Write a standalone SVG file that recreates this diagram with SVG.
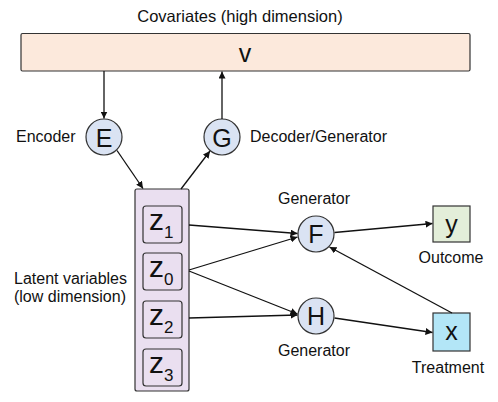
<svg xmlns="http://www.w3.org/2000/svg" width="498" height="402" viewBox="0 0 498 402">
<defs>
<marker id="ah" viewBox="0 0 10 10" refX="10" refY="5" markerWidth="7" markerHeight="7" markerUnits="userSpaceOnUse" orient="auto">
<path d="M0,0 L10,5 L0,10 z" fill="#111"/>
</marker>
<style>
text{font-family:"Liberation Sans",Arial,sans-serif;fill:#111}
.lbl{font-size:16px}
.big{font-size:25px;text-anchor:middle}
.node{stroke:#333;stroke-width:1.2}
.circ{fill:#dae3f3}
.z{font-size:30px}
.sub{font-size:17px}
.edge{stroke:#111;stroke-width:1.3;fill:none;marker-end:url(#ah)}
</style>
</defs>
<text class="lbl" x="240" y="22" text-anchor="middle" style="font-size:16.5px">Covariates (high dimension)</text>
<g id="V">
<rect class="node" x="21" y="33.5" width="449" height="37.5" rx="1.5" fill="#fce9dc"/>
<text class="big" x="245" y="62">v</text>
</g>
<g id="E">
<circle class="node circ" cx="104" cy="137" r="18"/>
<text class="big" x="104" y="146.5">E</text>
<text class="lbl" x="16" y="142">Encoder</text>
</g>
<g id="G">
<circle class="node circ" cx="222" cy="137" r="18"/>
<text class="big" x="222" y="146.5">G</text>
<text class="lbl" x="250" y="142">Decoder/Generator</text>
</g>
<g id="Z">
<rect class="node" x="135" y="189" width="54" height="202" rx="2" fill="#eadff0"/>
<rect class="node" x="143" y="206" width="39" height="37" rx="3" fill="#eadff0"/>
<rect class="node" x="143" y="253" width="39" height="37" rx="3" fill="#eadff0"/>
<rect class="node" x="143" y="301" width="39" height="37" rx="3" fill="#eadff0"/>
<rect class="node" x="143" y="349" width="39" height="37" rx="3" fill="#eadff0"/>
<text x="149" y="230"><tspan class="z">z</tspan><tspan class="sub" dy="8">1</tspan></text>
<text x="149" y="277"><tspan class="z">z</tspan><tspan class="sub" dy="8">0</tspan></text>
<text x="149" y="325"><tspan class="z">z</tspan><tspan class="sub" dy="8">2</tspan></text>
<text x="149" y="373"><tspan class="z">z</tspan><tspan class="sub" dy="8">3</tspan></text>
<text class="lbl" x="127" y="284" text-anchor="end">Latent variables</text>
<text class="lbl" x="126" y="302" text-anchor="end">(low dimension)</text>
</g>
<g id="F">
<circle class="node circ" cx="316" cy="234" r="18"/>
<text class="big" x="316" y="243">F</text>
<text class="lbl" x="314" y="204" text-anchor="middle">Generator</text>
</g>
<g id="H">
<circle class="node circ" cx="316" cy="316" r="18"/>
<text class="big" x="316" y="325">H</text>
<text class="lbl" x="314" y="356" text-anchor="middle">Generator</text>
</g>
<g id="Y">
<rect class="node" x="433" y="206" width="37" height="36" fill="#e3eed9"/>
<text class="big" x="451.5" y="233">y</text>
<text class="lbl" x="451" y="263" text-anchor="middle">Outcome</text>
</g>
<g id="X">
<rect class="node" x="433" y="313" width="37" height="38" fill="#b3e6f7"/>
<text class="big" x="451.5" y="340">x</text>
<text class="lbl" x="448" y="373" text-anchor="middle">Treatment</text>
</g>
<g id="connectors">
<line class="edge" x1="104" y1="71" x2="104" y2="118.5"/>
<line class="edge" x1="222" y1="119" x2="222" y2="71.5"/>
<line class="edge" x1="117" y1="150.5" x2="143" y2="188.5"/>
<line class="edge" x1="181" y1="189" x2="210" y2="151"/>
<line class="edge" x1="189" y1="225" x2="297.5" y2="233.5"/>
<line class="edge" x1="189" y1="270" x2="297.5" y2="237"/>
<line class="edge" x1="189" y1="271" x2="297.5" y2="314"/>
<line class="edge" x1="189" y1="318" x2="297.5" y2="315"/>
<line class="edge" x1="334.5" y1="232.5" x2="432.5" y2="223.5"/>
<line class="edge" x1="334.5" y1="318" x2="432.5" y2="332.5"/>
<line class="edge" x1="452" y1="313" x2="329.5" y2="247"/>
</g>
</svg>
